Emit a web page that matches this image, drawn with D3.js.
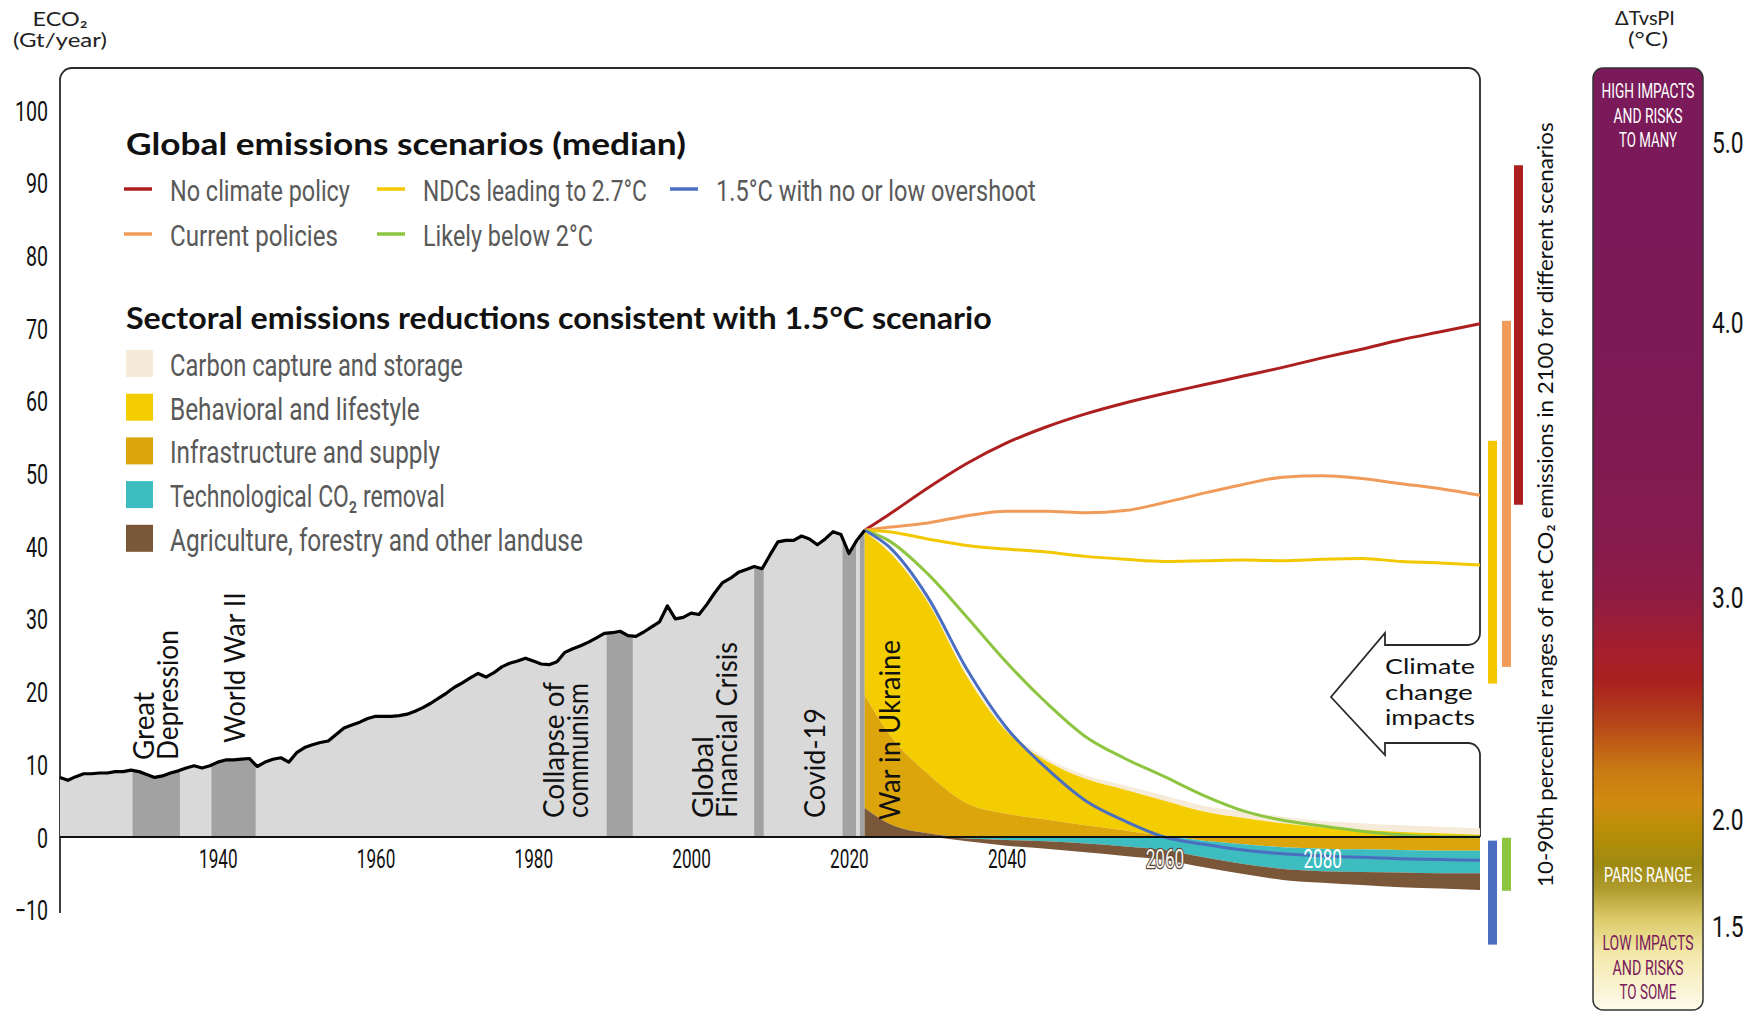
<!DOCTYPE html>
<html><head><meta charset="utf-8">
<script src="https://cdn.jsdelivr.net/npm/d3@7"></script>
<style>
html,body{margin:0;padding:0;background:#fff;}
svg{display:block;}
</style></head><body>
<svg id="chart" width="1758" height="1012"></svg>
<script>
// ---------------- DATA ----------------
const histYears = d3.range(1920, 2023);
const histValues = [
 8.2,7.8,8.3,8.7,8.7,8.8,8.8,9.0,9.0,9.2,
 9.0,8.6,8.2,8.4,8.8,9.1,9.5,9.8,9.5,9.8,
 10.3,10.6,10.6,10.7,10.8,9.7,10.3,10.7,10.9,10.3,
 11.6,12.3,12.7,13.0,13.2,14.1,15.0,15.4,15.8,16.3,
 16.6,16.6,16.6,16.7,16.9,17.3,17.8,18.4,19.1,19.8,
 20.6,21.2,21.9,22.5,22.0,22.6,23.4,23.9,24.2,24.6,
 24.2,23.8,23.7,24.1,25.4,25.9,26.3,26.8,27.4,28.0,
 28.1,28.3,27.7,27.6,28.2,28.9,29.6,31.8,30.0,30.2,
 30.8,30.6,32.0,33.6,35.0,35.6,36.4,36.8,37.2,36.9,
 38.8,40.6,40.8,40.8,41.4,41.0,40.2,41.0,42.0,41.6,
 39.0,40.8,42.2];

const eventNames  = ["Great Depression","World War II","Collapse of communism","Global Financial Crisis","Covid-19","War in Ukraine"];
const eventStart  = [1929.2, 1939.2, 1989.3, 2008.0, 2019.2, 2021.4];
const eventEnd    = [1935.2, 1944.8, 1992.6, 2009.2, 2020.9, 2022.4];
const eventLines  = [["Great","Depression"],["World War II"],["Collapse of","communism"],["Global","Financial Crisis"],["Covid-19"],["War in Ukraine"]];

const scenYears = [2022,2025,2030,2035,2040,2045,2050,2055,2060,2065,2070,2075,2080,2085,2090,2095,2100];
const scenarioNames = ["No climate policy","Current policies","NDCs leading to 2.7°C","Likely below 2°C","1.5°C with no or low overshoot"];
const noPolicy    = [42.2,44.3,48.0,51.4,54.2,56.4,58.2,59.7,61.0,62.2,63.4,64.6,65.9,67.1,68.4,69.5,70.6];
const currentPol  = [42.2,42.6,43.2,44.2,44.8,44.8,44.6,44.9,46.0,47.3,48.5,49.5,49.7,49.3,48.6,47.9,47.0];
const ndcs        = [42.2,42.0,41.0,40.1,39.6,39.2,38.6,38.2,37.9,38.0,38.1,38.0,38.2,38.3,37.9,37.7,37.4];
const below2      = [42.2,40.8,36.2,30.2,24.0,18.5,13.8,10.8,8.3,5.7,3.6,2.3,1.5,0.8,0.3,0.05,0.0];
const onePointFive= [42.2,40.0,33.0,23.0,15.0,9.5,5.0,2.2,0.0,-1.0,-1.8,-2.3,-2.6,-2.8,-3.0,-3.1,-3.2];

// 10-90th percentile ranges of net CO2 emissions in 2100 (same order as scenarioNames)
const range2100Low  = [45.7, 23.4, 21.1, -7.4, -14.8];
const range2100High = [92.4, 71.0, 54.5, -0.1, -0.5];

// Sectoral contributions, 1.5°C scenario (Gt/yr, signed)
const sectorNames = ["Carbon capture and storage","Behavioral and lifestyle","Infrastructure and supply","Technological CO₂ removal","Agriculture, forestry and other landuse"];
const ccs    = [0.2,0.2,0.3,0.3,0.4,0.4,0.5,0.6,0.7,0.8,0.9,0.9,0.9,0.9,0.9,0.9,0.9];
const behav  = [22.5,25.0,23.6,17.4,11.3,8.1,6.4,5.6,4.8,3.5,2.6,1.9,1.3,1.0,0.7,0.5,0.3];
const infra  = [15.5,12.4,8.2,4.6,3.2,2.4,1.6,0.9,0.2,-0.5,-1.0,-1.4,-1.6,-1.7,-1.8,-1.9,-1.9];
const techCDR= [0,0,0,-0.2,-0.4,-0.6,-0.9,-1.3,-1.8,-2.3,-2.7,-3.0,-3.1,-3.1,-3.1,-3.1,-3.1];
const afolu  = [4.0,1.9,0.5,-0.4,-0.8,-1.0,-1.2,-1.3,-1.35,-1.35,-1.4,-1.5,-1.6,-1.8,-2.0,-2.1,-2.3];

const yTicks = [-10,0,10,20,30,40,50,60,70,80,90,100];
const xTicks = [1940,1960,1980,2000,2020,2040,2060,2080];
const tempTicks = [1.5,2.0,3.0,4.0,5.0];

// ---------------- STYLE ----------------
const COND = "Roboto, 'Liberation Sans Narrow', sans-serif";
const GEO  = "Lato, 'Open Sans', sans-serif";
const scenColors  = ["#ad1f1f","#f09b5a","#f3c800","#8dc540","#4a6fc0"];
const sectorColors= ["#f6ebd8","#f3cd00","#dca50c","#3dbdbf","#7a5739"];
const histFill = "#d9d9d9", eventFill = "#a2a2a2";

const svg = d3.select("#chart");
const x = d3.scaleLinear().domain([1920, 2100]).range([60, 1480]);
const y = d3.scaleLinear().domain([-10, 100]).range([909.7, 110]);

// text helper: horizontally scales the text so that it spans width w
function label(o){
  const t = svg.append("text").attr("x",0).attr("y",0)
    .attr("text-anchor", o.anchor||"start").attr("font-family", o.font).attr("font-size", o.size)
    .attr("fill", o.fill||"#111").text(o.text);
  if (o.weight) t.attr("font-weight", o.weight);
  const L = t.node().getComputedTextLength();
  const sx = o.w ? o.w / L : 1;
  t.attr("transform", `translate(${o.x},${o.y})${o.rot ? ` rotate(${o.rot})` : ""} scale(${sx},1)`);
  return t;
}
function squeeze(sel, f){ sel.each(function(){ const L=this.getComputedTextLength(); d3.select(this).attr("textLength", L*f).attr("lengthAdjust","spacingAndGlyphs"); }); }

// ---------------- FRAME ----------------
const fp = d3.path();
fp.moveTo(60, 913); fp.lineTo(60, 80); fp.arcTo(60,68,72,68,12);
fp.lineTo(1468,68); fp.arcTo(1480,68,1480,80,12);
fp.lineTo(1480,633); fp.arcTo(1480,645,1468,645,12);
fp.lineTo(1385,645); fp.lineTo(1385,633); fp.lineTo(1331,697); fp.lineTo(1385,755); fp.lineTo(1385,743);
fp.lineTo(1468,743); fp.arcTo(1480,743,1480,755,12); fp.lineTo(1480,837);
svg.append("path").attr("d", fp.toString()).attr("fill","none").attr("stroke","#2a2a2a").attr("stroke-width",1.8);

// ---------------- HISTORICAL ----------------
const hist = histYears.map((yr,i)=>({yr, v:histValues[i]}));
const histArea = d3.area().x(d=>x(d.yr)).y0(y(0)).y1(d=>y(d.v));
svg.append("clipPath").attr("id","histClip").append("path").attr("d", histArea(hist));
svg.append("path").attr("d", histArea(hist)).attr("fill", histFill);
svg.append("g").attr("clip-path","url(#histClip)").selectAll("rect").data(eventNames).join("rect")
  .attr("x",(d,i)=>x(eventStart[i])).attr("width",(d,i)=>x(eventEnd[i])-x(eventStart[i]))
  .attr("y", y(60)).attr("height", y(0)-y(60)).attr("fill", eventFill);

// ---------------- SECTORAL STACK ----------------
const secRows = scenYears.map((yr,i)=>({yr, ccs:ccs[i], behav:behav[i], infra:infra[i], tech:techCDR[i], afolu:afolu[i]}));
const keyColor = {ccs:sectorColors[0], behav:sectorColors[1], infra:sectorColors[2], tech:sectorColors[3], afolu:sectorColors[4]};
const posStack = d3.stack().keys(["afolu","infra","behav","ccs"]).value((d,k)=>Math.max(0,d[k]))(secRows);
const negStack = d3.stack().keys(["infra","tech","afolu"]).value((d,k)=>Math.min(0,d[k])).offset(d3.stackOffsetDiverging)(secRows);
const stackArea = d3.area().curve(d3.curveMonotoneX).x(d=>x(d.data.yr)).y0(d=>y(d[0])).y1(d=>y(d[1]));
svg.append("g").selectAll("path").data(negStack).join("path").attr("d", stackArea).attr("fill", d=>keyColor[d.key]);
svg.append("g").selectAll("path").data(posStack.slice().reverse()).join("path").attr("d", stackArea).attr("fill", d=>keyColor[d.key]);

// ---------------- SCENARIO LINES ----------------
const scenSeries = [noPolicy, currentPol, ndcs, below2, onePointFive];
const line = d3.line().curve(d3.curveMonotoneX).x(d=>x(d[0])).y(d=>y(d[1]));
svg.append("g").selectAll("path").data(scenSeries).join("path")
  .attr("d", s=>line(scenYears.map((yr,i)=>[yr,s[i]])))
  .attr("fill","none").attr("stroke",(d,i)=>scenColors[i]).attr("stroke-width",3).attr("stroke-linejoin","round");

// historical line
svg.append("path").attr("d", d3.line().x(d=>x(d.yr)).y(d=>y(d.v))(hist))
  .attr("fill","none").attr("stroke","#000").attr("stroke-width",3.2).attr("stroke-linejoin","round");

// zero line
svg.append("line").attr("x1",x(1920)).attr("x2",x(2100)).attr("y1",y(0)).attr("y2",y(0)).attr("stroke","#111").attr("stroke-width",2);

// ---------------- EVENT LABELS ----------------
const evLayout = [ {bx:178, by:760, w:[68,130]}, {bx:245, by:743, w:[151]}, {bx:588, by:818, w:[136,135]},
  {bx:737, by:818, w:[82,176]}, {bx:825, by:818, w:[110]}, {bx:900, by:820, w:[180]} ];
eventLines.forEach((lines,i)=>{
  const L = evLayout[i];
  lines.forEach((t,j)=>{
    label({x: L.bx - 24*(lines.length-1-j), y: L.by, rot:-90, font:GEO, size:28, text:t, w:L.w[j]});
  });
});

// ---------------- AXES ----------------
const yAxis = svg.append("g").attr("transform","translate(60,0)")
  .call(d3.axisLeft(y).tickValues(yTicks).tickSize(0).tickPadding(12).tickFormat(d3.format("d")));
yAxis.select(".domain").remove();
yAxis.selectAll("text").attr("font-family",COND).attr("font-size",28).attr("fill","#111").attr("dy","0.36em");
squeeze(yAxis.selectAll("text"), 0.7);

const xAxis = svg.append("g").attr("transform",`translate(0,${y(0)})`)
  .call(d3.axisBottom(x).tickValues(xTicks).tickSize(0).tickPadding(13).tickFormat(d3.format("d")));
xAxis.select(".domain").remove();
xAxis.selectAll("text").attr("font-family",COND).attr("font-size",26).attr("fill","#111");
xAxis.selectAll("text").filter(d=>d===2060).attr("fill","#f5f1ec").attr("stroke","#5b4636").attr("stroke-width",2.6).attr("paint-order","stroke");
xAxis.selectAll("text").filter(d=>d===2080).attr("fill","#ffffff");
squeeze(xAxis.selectAll("text"), 0.66);

// y axis title
label({x:60, y:26, anchor:"middle", font:GEO, size:20, fill:"#222", text:"ECO₂", w:55});
label({x:60, y:47, anchor:"middle", font:GEO, size:20, fill:"#222", text:"(Gt/year)", w:94});

// ---------------- LEGENDS ----------------
label({x:126, y:155, font:GEO, weight:700, size:30, text:"Global emissions scenarios (median)", w:560});
const scenLeg = [{x:124,y:189,w:180},{x:124,y:234,w:168},{x:377,y:189,w:224},{x:377,y:234,w:170},{x:670,y:189,w:320}];
scenarioNames.forEach((n,i)=>{
  const L = scenLeg[i];
  svg.append("line").attr("x1",L.x).attr("x2",L.x+28).attr("y1",L.y).attr("y2",L.y).attr("stroke",scenColors[i]).attr("stroke-width",3.5);
  label({x:L.x+46, y:L.y+12, font:COND, size:30, fill:"#595959", text:n, w:L.w});
});

label({x:126, y:329, font:GEO, weight:700, size:30, text:"Sectoral emissions reductions consistent with 1.5°C scenario", w:866});
const secW = [293,250,270,275,413];
sectorNames.forEach((n,i)=>{
  const top = 350 + i*43.7;
  svg.append("rect").attr("x",126).attr("y",top).attr("width",27).attr("height",27).attr("fill",sectorColors[i]);
  label({x:170, y:top+26, font:COND, size:31, fill:"#595959", text:n, w:secW[i]});
});

// ---------------- 2100 RANGE BARS ----------------
const barCol = [2,1,0,1,0];   // column slot for each scenario
const barX = [1488,1502,1514];
svg.append("g").selectAll("rect").data(scenarioNames).join("rect")
  .attr("x",(d,i)=>barX[barCol[i]]).attr("width",9)
  .attr("y",(d,i)=>y(range2100High[i])).attr("height",(d,i)=>y(range2100Low[i])-y(range2100High[i]))
  .attr("fill",(d,i)=>scenColors[i]);

label({x:1553, y:887, rot:-90, font:GEO, size:22, text:"10-90th percentile ranges of net CO₂ emissions in 2100 for different scenarios", w:765});

// Climate change impacts
["Climate","change","impacts"].forEach((t,i)=>{
  label({x:1385, y:[674,699.5,725][i], font:GEO, size:21, text:t, w:[90,88,90][i]});
});

// ---------------- TEMPERATURE BAR ----------------
const defs = svg.append("defs");
const grad = defs.append("linearGradient").attr("id","tgrad").attr("x1",0).attr("x2",0).attr("y1",0).attr("y2",1);
const gstops = [[0,"#7a1a5a"],[0.30,"#7c1a57"],[0.50,"#861b4e"],[0.56,"#8f1c44"],[0.62,"#a51e2b"],[0.65,"#aa1f1f"],
  [0.69,"#b4401a"],[0.745,"#c97a13"],[0.78,"#d08b10"],[0.81,"#b98f06"],[0.845,"#9e8a12"],[0.87,"#ad9a2c"],
  [0.905,"#ddcc6c"],[0.94,"#f3e8aa"],[1,"#fefbec"]];
gstops.forEach(s=>grad.append("stop").attr("offset",s[0]).attr("stop-color",s[1]));
svg.append("rect").attr("x",1593).attr("y",68).attr("width",110).attr("height",942).attr("rx",10)
  .attr("fill","url(#tgrad)").attr("stroke","#333").attr("stroke-width",1.5);

const tScale = d3.scaleLinear().domain([1.5,2.0,3.0,4.0,5.0]).range([926,819,597,322,142]);
const tAxis = svg.append("g").attr("transform","translate(1703,0)")
  .call(d3.axisRight(tScale).tickValues(tempTicks).tickSize(0).tickPadding(9).tickFormat(d3.format(".1f")));
tAxis.select(".domain").remove();
tAxis.selectAll("text").attr("font-family",COND).attr("font-size",30).attr("fill","#111").attr("dy","0.36em");
squeeze(tAxis.selectAll("text"), 0.76);

label({x:1645, y:25, anchor:"middle", font:GEO, size:20, fill:"#222", text:"ΔTvsPI", w:60});
label({x:1648, y:46, anchor:"middle", font:GEO, size:20, fill:"#222", text:"(°C)", w:40});

const barLabels = [
  {t:"HIGH IMPACTS",y:98,w:93,c:"#fff"},{t:"AND RISKS",y:123,w:69,c:"#fff"},{t:"TO MANY",y:147,w:58,c:"#fff"},
  {t:"PARIS RANGE",y:882,w:88,c:"#fff"},
  {t:"LOW IMPACTS",y:950,w:91,c:"#7a1a5a"},{t:"AND RISKS",y:975,w:71,c:"#7a1a5a"},{t:"TO SOME",y:999,w:57,c:"#7a1a5a"}];
barLabels.forEach(b=>{
  label({x:1648, y:b.y, anchor:"middle", font:COND, size:20, fill:b.c, text:b.t, w:b.w});
});
</script>
</body></html>
